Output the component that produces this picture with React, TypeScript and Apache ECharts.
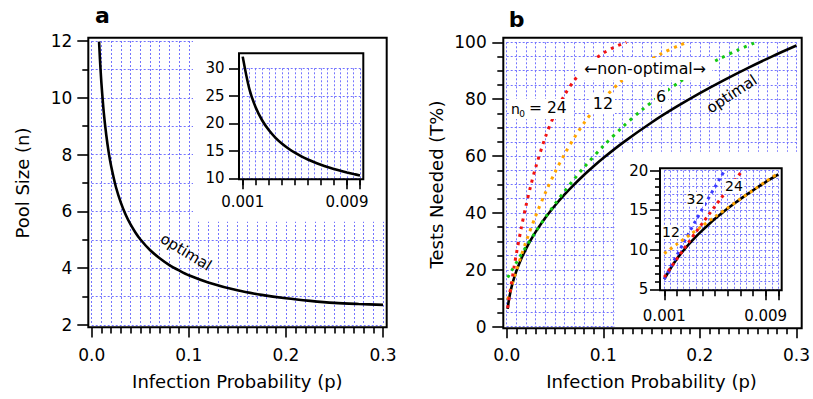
import React, { useEffect, useRef } from "react";
import * as echarts from "echarts";

// ---------- data ----------
// panel a, main: optimal pool size vs infection probability
const pA = [0.0076, 0.0085, 0.009, 0.01, 0.0125, 0.015, 0.0175, 0.02, 0.025, 0.03, 0.035, 0.04, 0.045, 0.05, 0.06, 0.07, 0.08, 0.09, 0.1, 0.12, 0.15, 0.175, 0.2, 0.225, 0.25, 0.275, 0.3];
const nA = [11.98, 11.36, 11.06, 10.52, 9.46, 8.69, 8.08, 7.6, 6.85, 6.31, 5.88, 5.54, 5.26, 5.02, 4.64, 4.35, 4.11, 3.92, 3.75, 3.5, 3.22, 3.06, 2.94, 2.85, 2.78, 2.74, 2.71];
// panel a, inset
const pAIn = [0.001, 0.0015, 0.002, 0.0025, 0.003, 0.0035, 0.004, 0.0045, 0.005, 0.0055, 0.006, 0.0065, 0.007, 0.0075, 0.008, 0.0085, 0.009, 0.0095, 0.01];
const nAIn = [32.12, 26.33, 22.87, 20.51, 18.77, 17.41, 16.32, 15.42, 14.65, 13.99, 13.42, 12.92, 12.47, 12.06, 11.7, 11.36, 11.06, 10.78, 10.52];

// panel b, main: tests needed (%)
const pOpt = [0.001, 0.002, 0.003, 0.005, 0.0075, 0.01, 0.015, 0.02, 0.025, 0.03, 0.04, 0.05, 0.06, 0.07, 0.08, 0.09, 0.1, 0.12, 0.15, 0.175, 0.2, 0.225, 0.25, 0.275, 0.3];
const tOpt = [6.28, 8.85, 10.81, 13.91, 16.97, 19.54, 23.82, 27.39, 30.52, 33.33, 38.29, 42.62, 46.51, 50.06, 53.35, 56.42, 59.31, 64.64, 71.8, 77.17, 82.12, 86.72, 91.03, 95.07, 98.86];
const p24 = [0.001, 0.002, 0.003, 0.004, 0.005, 0.0075, 0.01, 0.015, 0.02, 0.025, 0.03, 0.04, 0.05, 0.06, 0.07, 0.08, 0.09, 0.1, 0.11, 0.12, 0.124];
const t24 = [6.54, 8.86, 11.12, 13.34, 15.5, 20.7, 25.6, 34.59, 42.59, 49.7, 56.03, 66.62, 74.97, 81.52, 86.64, 90.65, 93.77, 96.19, 98.07, 99.52, 100.0];
const p12 = [0.001, 0.0025, 0.005, 0.0075, 0.01, 0.015, 0.02, 0.03, 0.04, 0.05, 0.06, 0.07, 0.08, 0.09, 0.1, 0.12, 0.14, 0.16, 0.18, 0.187];
const t12 = [9.53, 11.29, 14.17, 16.97, 19.7, 24.92, 29.86, 38.95, 47.06, 54.3, 60.74, 66.47, 71.57, 76.09, 80.09, 86.77, 91.96, 95.99, 99.09, 100.0];
const p6 = [0.001, 0.005, 0.01, 0.015, 0.02, 0.03, 0.04, 0.05, 0.06, 0.07, 0.08, 0.1, 0.12, 0.14, 0.16, 0.18, 0.2, 0.22, 0.24, 0.258];
const t6 = [17.26, 19.63, 22.52, 25.34, 28.08, 33.37, 38.39, 43.16, 47.68, 51.97, 56.03, 63.52, 70.23, 76.21, 81.54, 86.27, 90.45, 94.15, 97.4, 99.98];

// panel b, inset
const pBIn = [0.001, 0.0015, 0.002, 0.0025, 0.003, 0.0035, 0.004, 0.0045, 0.005, 0.0055, 0.006, 0.0065, 0.007, 0.0075, 0.008, 0.0085, 0.009, 0.0095, 0.01];
const tOptIn = [6.28, 7.67, 8.85, 9.88, 10.81, 11.67, 12.46, 13.2, 13.91, 14.57, 15.21, 15.82, 16.41, 16.97, 17.52, 18.04, 18.56, 19.05, 19.54];
const p12In = [0.001, 0.002, 0.003, 0.004, 0.005, 0.006, 0.007, 0.008, 0.009, 0.01];
const t12In = [9.53, 10.71, 11.87, 13.03, 14.17, 15.3, 16.42, 17.52, 18.62, 19.7];
const p24In = [0.001, 0.0015, 0.002, 0.0025, 0.003, 0.0035, 0.004, 0.0045, 0.005, 0.0055, 0.006, 0.0065, 0.0071];
const t24In = [6.54, 7.7, 8.86, 10.0, 11.12, 12.24, 13.34, 14.43, 15.5, 16.56, 17.61, 18.65, 19.89];
const p32In = [0.001, 0.0015, 0.002, 0.0025, 0.003, 0.0035, 0.004, 0.0045, 0.005, 0.0055, 0.0057];
const t32In = [6.28, 7.82, 9.33, 10.82, 12.29, 13.74, 15.16, 16.56, 17.95, 19.31, 19.84];

// tick labels
const insetTickLabels = ["0.001", "0.009"];

// ---------- styles ----------
const AXF = '"DejaVu Sans", Verdana, sans-serif';
const GRIDC = "#7474ff";
const RED = "#f01414";
const ORANGE = "#ffa500";
const GREEN = "#14c814";
const BLUE = "#3c3cff";

const gl = () => ({ show: true, lineStyle: { color: GRIDC, width: 1, type: [2, 2], opacity: 1 } });
const noLine = () => ({ show: false, onZero: false });
const tick = (len: number) => ({ show: true, length: len, lineStyle: { color: "#000", width: 1.6 } });

const zip = (xs: number[], ys: number[]) => xs.map((x, i) => [x, ys[i]]);

const lineS = (xi: number, yi: number, data: number[][], color: string, dotted: boolean, z: number, dash?: number[]) => ({
  type: "line",
  xAxisIndex: xi,
  yAxisIndex: yi,
  data,
  showSymbol: false,
  symbol: "none",
  smooth: 0.3,
  clip: false,
  z,
  lineStyle: dotted
    ? { color, width: 3, type: dash || [3, 5], cap: "butt" }
    : { color, width: 2.6 },
  silent: true,
});

const insetLabelFmt = (v: number) => {
  if (Math.abs(v - 0.001) < 1e-7) return insetTickLabels[0];
  if (Math.abs(v - 0.009) < 1e-7) return insetTickLabels[1];
  return "";
};

const text = (t: string, x: number, y: number, size: number, opts: any = {}) => ({
  type: "text",
  x,
  y,
  z: 11,
  silent: true,
  rotation: opts.rotation || 0,
  style: {
    text: t,
    fill: "#000",
    font: `${opts.bold ? "bold " : ""}${size}px ${opts.family || AXF}`,
    align: opts.align || "center",
    verticalAlign: "middle",
    textAlign: opts.align || "center",
    textVerticalAlign: "middle",
  },
});
const whiteRect = (x: number, y: number, w: number, h: number, z: number) => ({
  type: "rect",
  z,
  silent: true,
  shape: { x, y, width: w, height: h },
  style: { fill: "#fff", stroke: "none" },
});
const frame = (x: number, y: number, w: number, h: number) => ({
  type: "rect",
  z: 12,
  silent: true,
  shape: { x, y, width: w, height: h },
  style: { fill: "none", stroke: "#000", lineWidth: 2 },
});

function buildOption() {
  const lab = (margin: number, size: number, extra: any = {}) => ({
    margin,
    fontSize: size,
    color: "#000",
    fontFamily: AXF,
    ...extra,
  });
  const minor = (n: number, len: number) => ({ show: true, splitNumber: n, length: len, lineStyle: { color: "#000", width: 1.6 } });
  return {
    animation: false,
    grid: [
      { left: 91.7, top: 41, width: 291.3, height: 284 },
      { left: 242.7, top: 68.3, width: 117.3, height: 110 },
      { left: 506.7, top: 42.3, width: 291.3, height: 284.4 },
      { left: 664.3, top: 170.7, width: 114, height: 118.6 },
    ],
    xAxis: [
      {
        gridIndex: 0, type: "value", position: "bottom", min: 0, max: 0.3, interval: 0.1, offset: 2.5,
        axisLine: noLine(), axisTick: tick(10), minorTick: minor(10, 6),
        splitLine: gl(), minorSplitLine: gl(),
        axisLabel: lab(19, 17, { formatter: (v: number) => v.toFixed(1) }),
        name: "Infection Probability (p)", nameLocation: "middle", nameGap: 45,
        nameTextStyle: { fontSize: 18, color: "#000", fontFamily: AXF },
      },
      {
        gridIndex: 1, type: "value", position: "bottom", min: 0.001, max: 0.01, interval: 0.001, offset: 1, z: 5,
        axisLine: noLine(), axisTick: tick(6),
        minorTick: { show: false, splitNumber: 2 },
        splitLine: gl(), minorSplitLine: gl(),
        axisLabel: lab(15, 15, { formatter: insetLabelFmt }),
      },
      {
        gridIndex: 2, type: "value", position: "bottom", min: 0, max: 0.3, interval: 0.1, offset: 1.6,
        axisLine: noLine(), axisTick: tick(10), minorTick: minor(10, 6),
        splitLine: gl(), minorSplitLine: gl(),
        axisLabel: lab(18, 17, { formatter: (v: number) => v.toFixed(1) }),
        name: "Infection Probability (p)", nameLocation: "middle", nameGap: 44,
        nameTextStyle: { fontSize: 18, color: "#000", fontFamily: AXF },
      },
      {
        gridIndex: 3, type: "value", position: "bottom", min: 0.001, max: 0.01, interval: 0.001, offset: 1, z: 5,
        axisLine: noLine(), axisTick: tick(6),
        minorTick: { show: false, splitNumber: 2 },
        splitLine: gl(), minorSplitLine: gl(),
        axisLabel: lab(18, 15, { formatter: insetLabelFmt }),
      },
      {
        gridIndex: 1, type: "value", position: "bottom", min: 0.001, max: 0.01, interval: 0.008, offset: 1, z: 5,
        axisLine: noLine(), axisTick: tick(10), splitLine: { show: false }, axisLabel: { show: false },
      },
      {
        gridIndex: 3, type: "value", position: "bottom", min: 0.001, max: 0.01, interval: 0.008, offset: 1, z: 5,
        axisLine: noLine(), axisTick: tick(10), splitLine: { show: false }, axisLabel: { show: false },
      },
    ],
    yAxis: [
      {
        gridIndex: 0, type: "value", position: "left", min: 2, max: 12, interval: 2, offset: 3.4,
        axisLine: noLine(), axisTick: tick(11), minorTick: minor(2, 6),
        splitLine: gl(), minorSplitLine: gl(),
        axisLabel: lab(16, 17),
        name: "Pool Size (n)", nameLocation: "middle", nameGap: 57,
        nameTextStyle: { fontSize: 18, color: "#000", fontFamily: AXF },
      },
      {
        gridIndex: 1, type: "value", position: "left", min: 10, max: 30, interval: 5, offset: 3.7, z: 5,
        axisLine: noLine(), axisTick: tick(10),
        splitLine: gl(),
        axisLabel: lab(14.5, 15),
      },
      {
        gridIndex: 2, type: "value", position: "left", min: 0, max: 100, interval: 20, offset: 3.4,
        axisLine: noLine(), axisTick: tick(11), minorTick: minor(4, 6),
        splitLine: gl(), minorSplitLine: gl(),
        axisLabel: lab(16.6, 17),
        name: "Tests Needed (T%)", nameLocation: "middle", nameGap: 57.6,
        nameTextStyle: { fontSize: 18, color: "#000", fontFamily: AXF },
      },
      {
        gridIndex: 3, type: "value", position: "left", min: 5, max: 20, interval: 5, offset: 4.3, z: 5,
        axisLine: noLine(), axisTick: tick(10), minorTick: minor(5, 5),
        splitLine: gl(), minorSplitLine: gl(),
        axisLabel: lab(11.7, 15),
      },
    ],
    series: [
      lineS(0, 0, zip(pA, nA), "#000", false, 2),
      lineS(1, 1, zip(pAIn, nAIn), "#000", false, 6),
      lineS(2, 2, zip(pOpt, tOpt), "#000", false, 2),
      lineS(2, 2, zip(p6, t6), GREEN, true, 3),
      lineS(2, 2, zip(p12, t12), ORANGE, true, 3),
      lineS(2, 2, zip(p24, t24), RED, true, 3),
      lineS(3, 3, zip(pBIn, tOptIn), "#000", false, 6),
      lineS(3, 3, zip(p32In, t32In), BLUE, true, 7, [3, 4]),
      lineS(3, 3, zip(p12In, t12In), ORANGE, true, 7, [3, 4]),
      lineS(3, 3, zip(p24In, t24In), RED, true, 7, [3, 4]),
    ],
    graphic: {
      elements: [
        // inset backgrounds
        whiteRect(193, 38.7, 193, 183, 3),
        whiteRect(615, 151.7, 186, 176, 3),
        // label backgrounds
        whiteRect(509, 99, 64, 20, 9),
        whiteRect(590, 94, 25, 20, 9),
        whiteRect(578, 58, 134, 22, 9),
        whiteRect(655, 87, 13, 17, 9),
        whiteRect(662, 225, 18, 14, 9),
        whiteRect(687, 192, 18, 14, 9),
        whiteRect(725, 179, 19, 14, 9),
        // frames
        frame(88.3, 37.7, 298.4, 289.5),
        frame(239, 53.3, 124.3, 126),
        frame(503.3, 37.7, 298.4, 290.6),
        frame(660, 168.3, 121.7, 122),
        // panel letters
        text("a", 102.5, 15.6, 22, { bold: true }),
        text("b", 516.7, 19, 22, { bold: true }),
        // panel a labels
        text("optimal", 186, 252, 15, { rotation: -0.55 }),
        // panel b labels
        text("n", 511, 108.9, 14, { align: "left" }),
        text("0", 519.3, 113.8, 9, { align: "left" }),
        text("= 24", 529, 108.4, 15.5, { align: "left" }),
        text("12", 603, 103.7, 16),
        text("\u2190non-optimal\u2192", 645, 68, 15.8),
        text("6", 661, 96.1, 16),
        text("optimal", 731.7, 94, 15, { rotation: 0.58 }),
        text("12", 671, 232.4, 14),
        text("32", 695.5, 199.1, 14),
        text("24", 734, 185.8, 14),
      ],
    },
  };
}

export default function App() {
  const ref = useRef<HTMLDivElement>(null);
  useEffect(() => {
    if (!ref.current) return;
    const chart = echarts.init(ref.current, null, { renderer: "svg" });
    chart.setOption(buildOption() as any);
    return () => chart.dispose();
  }, []);
  return (
    <div
      ref={ref}
      style={{ position: "absolute", left: 0, top: 0, width: 813, height: 399, background: "#fff" }}
    />
  );
}
